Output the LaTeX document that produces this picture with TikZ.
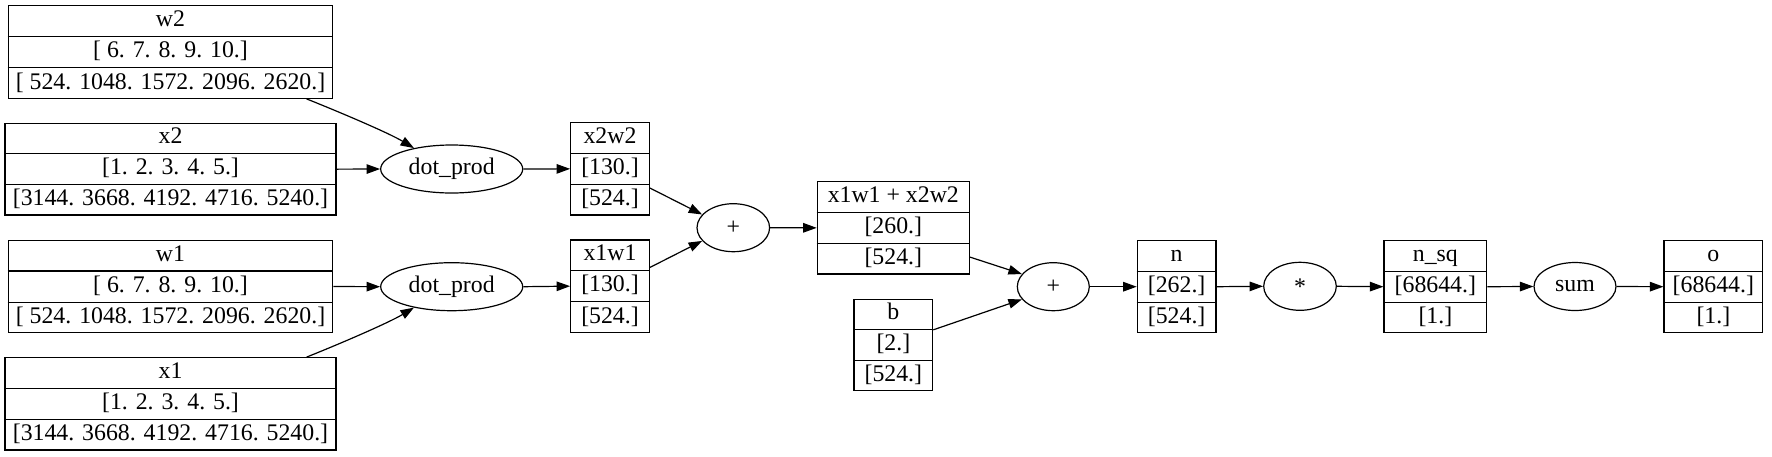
\documentclass[tikz,border=0pt]{standalone}
\usepackage{fontspec}
\setmainfont{Liberation Serif}
\usetikzlibrary{arrows.meta,calc,fit,shapes.geometric}
\tikzset{
  recbox/.style={draw, line width=1.2pt, inner sep=0pt},
  recline/.style={line width=1.2pt},
  cell/.style={inner sep=0pt, anchor=base, font=\fontsize{23.8}{28}\selectfont},
  opnode/.style={draw, ellipse, line width=1.2pt, inner sep=0pt, font=\fontsize{23.8}{28}\selectfont},
  arr/.style={-{Triangle[length=13.5pt,width=9.5pt]}, line width=1.2pt},
}
\newcommand\recnode[8]{%
  \coordinate (#1-a) at (#2,#3);
  \coordinate (#1-b) at (#4,#5);
  \node[recbox, fit=(#1-a)(#1-b)] (#1) {};
  \draw[recline] ($(#1.north west)!1/3!(#1.south west)$) -- ($(#1.north east)!1/3!(#1.south east)$);
  \draw[recline] ($(#1.north west)!2/3!(#1.south west)$) -- ($(#1.north east)!2/3!(#1.south east)$);
  \node[cell] (#1-1) at ($($(#1.north)!1/6!(#1.south)$)+(0,5.8)$) {#6};
  \node[cell] (#1-2) at ($($(#1.north)!3/6!(#1.south)$)+(0,5.8)$) {#7};
  \node[cell] (#1-3) at ($($(#1.north)!5/6!(#1.south)$)+(0,5.8)$) {#8};
}
\begin{document}
\begin{tikzpicture}[x=1pt,y=-1pt]
\useasboundingbox[fill=white] (0,0) rectangle (1772,456);
% records
\recnode{w2}{8.3}{5.7}{332.7}{98.3}{w2}{[ 6. 7. 8. 9. 10.]}{[ 524. 1048. 1572. 2096. 2620.]}
\recnode{x2}{5}{123.3}{336}{215}{x2}{[1. 2. 3. 4. 5.]}{[3144. 3668. 4192. 4716. 5240.]}
\recnode{w1}{8.3}{240.3}{332.7}{332.7}{w1}{[ 6. 7. 8. 9. 10.]}{[ 524. 1048. 1572. 2096. 2620.]}
\recnode{x1}{5}{357.7}{336}{450}{x1}{[1. 2. 3. 4. 5.]}{[3144. 3668. 4192. 4716. 5240.]}
\recnode{x2w2}{570.7}{122.7}{649.3}{215}{x2w2}{[130.]}{[524.]}
\recnode{x1w1}{570.7}{240}{649.3}{332.3}{x1w1}{[130.]}{[524.]}
\recnode{s}{817.3}{181.7}{969.3}{274}{x1w1 + x2w2}{[260.]}{[524.]}
\recnode{b}{854}{299.3}{932.7}{390.7}{b}{[2.]}{[524.]}
\recnode{n}{1137.3}{240.7}{1216}{332.7}{n}{[262.]}{[524.]}
\recnode{nsq}{1384}{240.7}{1486.7}{332.7}{n\_sq}{[68644.]}{[1.]}
\recnode{o}{1664}{240.7}{1762.7}{332.7}{o}{[68644.]}{[1.]}
% operations
\node[opnode, minimum width=142pt, minimum height=48pt] (dot2) at (451.7,169) {dot\_prod};
\node[opnode, minimum width=142pt, minimum height=48pt] (dot1) at (451.7,286.7) {dot\_prod};
\node[opnode, minimum width=72.6pt, minimum height=48pt] (plus1) at (733.3,227.7) {+};
\node[opnode, minimum width=72pt, minimum height=48pt] (plus2) at (1053.3,286.7) {+};
\node[opnode, minimum width=72.6pt, minimum height=48pt] (mul) at (1300,286.3) {*};
\node[opnode, minimum width=82pt, minimum height=48pt] (sum) at (1575,286.5) {sum};
% edges
\draw[arr] ($(w2.south east)+(-26.7,0)$) .. controls +(35,14) and +(-25,-15) .. (dot2.151);
\draw[arr] (x2.east) -- (dot2.west);
\draw[arr] (w1.east) -- (dot1.west);
\draw[arr] ($(x1.north east)+(-30,0)$) .. controls +(35,-14) and +(-25,15) .. (dot1.209);
\draw[arr] (dot2.east) -- (x2w2.west);
\draw[arr] (dot1.east) -- (x1w1.west);
\draw[arr] ($(x2w2.north east)!0.705!(x2w2.south east)$) -- (plus1.157);
\draw[arr] ($(x1w1.north east)!0.3!(x1w1.south east)$) -- (plus1.203);
\draw[arr] (plus1.east) -- (s.west);
\draw[arr] ($(s.north east)!0.8125!(s.south east)$) -- (plus2.158);
\draw[arr] ($(b.north east)!0.336!(b.south east)$) -- (plus2.202);
\draw[arr] (plus2.east) -- (n.west);
\draw[arr] (n.east) -- (mul.west);
\draw[arr] (mul.east) -- (nsq.west);
\draw[arr] (nsq.east) -- (sum.west);
\draw[arr] (sum.east) -- (o.west);
\end{tikzpicture}
\end{document}
